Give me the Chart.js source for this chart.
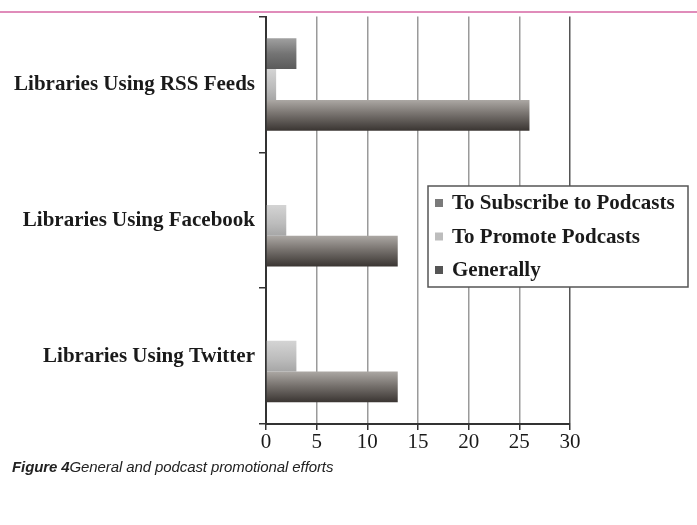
<!DOCTYPE html>
<html>
<head>
<meta charset="utf-8">
<script src="https://cdn.jsdelivr.net/npm/chart.js@4/dist/chart.umd.min.js"></script>
<style>
  html, body { margin: 0; padding: 0; background: #fff; }
  #wrap { position: relative; width: 697px; height: 525px; overflow: hidden; }
  #topline { position: absolute; left: 0; top: 11px; width: 697px; height: 2px; background: #e08cba; }
  #caption { position: absolute; left: 12px; top: 458px; font: italic 15px "Liberation Sans", Arial, sans-serif; color: #222; letter-spacing: -0.1px; }
  #caption b { font-weight: bold; }
</style>
</head>
<body>
<div id="wrap">
  <canvas id="barCanvas" width="697" height="525"></canvas>
  <div id="topline"></div>
  <div id="caption"><b>Figure 4</b>General and podcast promotional efforts</div>
</div>
<script>
var categories = ['Libraries Using RSS Feeds', 'Libraries Using Facebook', 'Libraries Using Twitter'];
var seriesNames = ['To Subscribe to Podcasts', 'To Promote Podcasts', 'Generally'];
var subscribeValues = [3, 0, 0];
var promoteValues = [1, 2, 3];
var generallyValues = [26, 13, 13];
var xTicks = [0, 5, 10, 15, 20, 25, 30];

var CAT_PCT = 0.68;
var serif = '"Liberation Serif", "Times New Roman", serif';

// vertical shading per bar, worked out from the category scale
function shade(stops) {
	return function(ctx) {
		var chart = ctx.chart, area = chart.chartArea, y = chart.scales.y;
		if (!area || !y) return stops[stops.length - 1][1];
		var catH = (area.bottom - area.top) / categories.length;
		var thick = catH * CAT_PCT / seriesNames.length;
		var top = y.getPixelForValue(ctx.dataIndex) - catH * CAT_PCT / 2 + ctx.datasetIndex * thick;
		var g = chart.ctx.createLinearGradient(0, top, 0, top + thick);
		stops.forEach(function(s) { g.addColorStop(s[0], s[1]); });
		return g;
	};
}

var legendBox = {
	id: 'legendBox',
	afterDraw: function(chart) {
		var c = chart.ctx;
		var x = 428, y = 186, w = 260, h = 101;
		c.save();
		c.fillStyle = '#fff';
		c.fillRect(x, y, w, h);
		c.strokeStyle = '#555';
		c.lineWidth = 1.5;
		c.strokeRect(x, y, w, h);
		c.font = 'bold 21px ' + serif;
		c.textBaseline = 'middle';
		chart.data.datasets.forEach(function(ds, i) {
			var cy = y + 17 + i * 33.5;
			c.fillStyle = ds.legendColor;
			c.fillRect(x + 7, cy - 4, 8, 8);
			c.fillStyle = '#1a1a1a';
			c.fillText(ds.label, x + 24, cy + 1);
		});
		c.restore();
	}
};

var config = {
	type: 'bar',
	data: {
		labels: categories,
		datasets: [
			{
				label: seriesNames[0],
				data: subscribeValues,
				legendColor: '#7a7a7a',
				backgroundColor: shade([[0, '#a0a0a0'], [0.5, '#747474'], [1, '#5a5a5a']])
			},
			{
				label: seriesNames[1],
				data: promoteValues,
				legendColor: '#bdbdbd',
				backgroundColor: shade([[0, '#d4d4d4'], [0.6, '#bcbcbc'], [1, '#a6a6a6']])
			},
			{
				label: seriesNames[2],
				data: generallyValues,
				legendColor: '#555',
				backgroundColor: shade([[0, '#aca8a4'], [0.45, '#78736f'], [1, '#3a3532']])
			}
		]
	},
	options: {
		indexAxis: 'y',
		responsive: false,
		animation: false,
		categoryPercentage: CAT_PCT,
		barPercentage: 1,
		layout: { padding: { top: 16, right: 127, left: 0, bottom: 0 } },
		plugins: {
			legend: { display: false },
			tooltip: { enabled: false }
		},
		scales: {
			x: {
				min: 0,
				max: 30,
				afterBuildTicks: function(s) { s.ticks = xTicks.map(function(v) { return { value: v }; }); },
				afterFit: function(s) { s.height = 101; },
				grid: {
					color: function(ctx) { return ctx.tick && ctx.tick.value === 30 ? '#555' : '#9a9a9a'; },
					lineWidth: 1.5,
					tickLength: 6,
					tickColor: '#333'
				},
				border: { color: '#333', width: 2 },
				ticks: {
					padding: 0,
					color: '#1a1a1a',
					font: { family: serif, size: 21 }
				}
			},
			y: {
				afterFit: function(s) { s.width = 266; },
				grid: {
					drawOnChartArea: false,
					offset: true,
					tickLength: 7,
					color: '#333',
					lineWidth: 1.5
				},
				border: { color: '#333', width: 2 },
				ticks: {
					padding: 4,
					color: '#1a1a1a',
					font: { family: serif, size: 21, weight: 'bold' }
				}
			}
		}
	},
	plugins: [legendBox]
};

var ctxBar = document.getElementById('barCanvas').getContext('2d');
window.myBar = new Chart(ctxBar, config);
</script>
</body>
</html>
